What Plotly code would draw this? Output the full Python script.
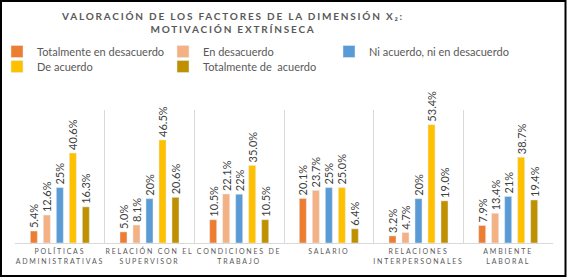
import plotly.graph_objects as go

categories = [
    "POLÍTICAS<br>ADMINISTRATIVAS",
    "RELACIÓN CON EL<br>SUPERVISOR",
    "CONDICIONES DE<br>TRABAJO",
    "SALARIO",
    "RELACIONES<br>INTERPERSONALES",
    "AMBIENTE<br>LABORAL",
]
series_names = [
    "Totalmente en desacuerdo",
    "En desacuerdo",
    "Ni acuerdo, ni en desacuerdo",
    "De acuerdo",
    "Totalmente de  acuerdo",
]
totalmente_desacuerdo = [5.4, 5.0, 10.5, 20.1, 3.2, 7.9]
en_desacuerdo = [12.6, 8.1, 22.1, 23.7, 4.7, 13.4]
ni_acuerdo = [25, 20, 22, 25, 20, 21]
de_acuerdo = [40.6, 46.5, 35.0, 25.0, 53.4, 38.7]
totalmente_acuerdo = [16.3, 20.6, 10.5, 6.4, 19.0, 19.4]
series_values = [totalmente_desacuerdo, en_desacuerdo, ni_acuerdo, de_acuerdo, totalmente_acuerdo]
colors = ["#ED7D31", "#F4B183", "#5B9BD5", "#FFC000", "#BF9000"]
label_formats = ["%{y:.1f}%", "%{y:.1f}%", "%{y:.0f}%", "%{y:.1f}%", "%{y:.1f}%"]
legend_ids = ["legend", "legend2", "legend3", "legend4", "legend5"]
legend_left_px = [-3, 163, 329, -3, 163]
legend_top_px = [37, 37, 37, 52, 52]

W, H = 567, 277
ML, MR, MT, MB = 15, 14, 110, 34
PW, PH = W - ML - MR, H - MT - MB

fig = go.Figure()
for name, vals, col, fmt, lg in zip(series_names, series_values, colors, label_formats, legend_ids):
    fig.add_trace(go.Bar(
        x=categories, y=vals, name=name, marker_color=col, legend=lg,
        texttemplate=fmt, textposition="outside", textangle=-90,
        constraintext="none", cliponaxis=False,
        textfont=dict(family="Lato", size=11, color="#404040"),
    ))

def px_x(p):
    return (p - ML) / PW

def px_y(p):
    return (H - MB - p) / PH

def legend_at(left_px, top_px):
    return dict(
        orientation="v", x=px_x(left_px), xanchor="left", y=px_y(top_px), yanchor="top",
        font=dict(family="Lato", size=11, color="#595959"),
        traceorder="normal", bgcolor="rgba(0,0,0,0)", itemwidth=30, tracegroupgap=0,
    )

legends = {lg: legend_at(lx, ty) for lg, lx, ty in zip(legend_ids, legend_left_px, legend_top_px)}

fig.update_layout(
    width=W, height=H,
    margin=dict(l=ML, r=MR, t=MT, b=MB, autoexpand=False),
    paper_bgcolor="white", plot_bgcolor="white",
    barmode="group", bargap=0.275, bargroupgap=0.46,
    title=dict(
        text="VALORACIÓN DE LOS FACTORES DE LA DIMENSIÓN X₂:<br>MOTIVACIÓN EXTRÍNSECA",
        x=233 / W, xanchor="center", xref="container",
        y=1 - 20 / H, yanchor="top", yref="container",
        font=dict(family="Lato", size=10, color="#595959", weight="bold"),
    ),
    xaxis=dict(
        showgrid=True, gridcolor="#D9D9D9", gridwidth=1, tickson="boundaries",
        showline=True, linecolor="#D9D9D9", linewidth=1, ticks="",
        tickfont=dict(family="Lato", size=7, color="#595959"),
        ticklabelstandoff=2,
        fixedrange=True, automargin=False,
    ),
    yaxis=dict(range=[0, 60], visible=False, fixedrange=True, automargin=False),
    shapes=[dict(
        type="rect", xref="paper", yref="paper",
        x0=px_x(1), x1=px_x(565.5), y0=px_y(276), y1=px_y(1),
        line=dict(color="black", width=2), fillcolor="rgba(0,0,0,0)", layer="above",
    )],
    showlegend=True,
    **legends,
)

post = ("var s=document.createElement('style');"
        "s.innerHTML='html,body{margin:0;padding:0;overflow:hidden} "
        ".gtitle{letter-spacing:1.8px} .xtick text{letter-spacing:1.8px}';"
        "document.head.appendChild(s);")
fig.write_html("out.html", post_script=post, config={"displayModeBar": False})
